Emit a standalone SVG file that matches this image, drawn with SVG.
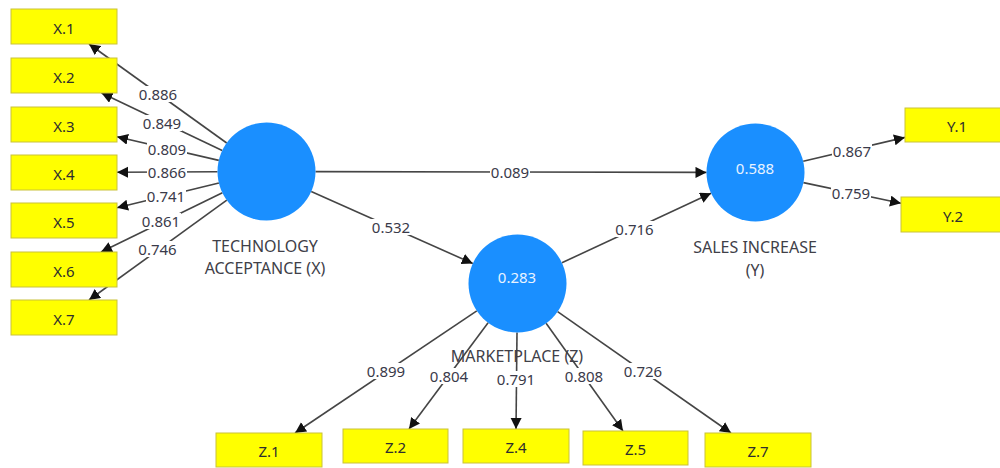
<svg xmlns="http://www.w3.org/2000/svg" width="1000" height="468" viewBox="0 0 1000 468">
  <defs>
    <marker id="arrow" markerUnits="userSpaceOnUse" markerWidth="12" markerHeight="12" refX="11" refY="5.5" orient="auto">
      <path d="M0,0 L11,5.5 L0,11 Z" fill="#111"/>
    </marker>
    <style>
      .bg { fill: #ffffff; }
      .edge { stroke: #454545; stroke-width: 1.6; fill: none; marker-end: url(#arrow); }
      .lbl-bg { fill: #ffffff; }
      .coef { font-family: "Noto Sans", "Open Sans", sans-serif; font-size: 15px; fill: #3a3a4a; text-anchor: middle; dominant-baseline: central; }
      .latent { fill: #1a8fff; }
      .r2 { font-family: "Noto Sans", "Open Sans", sans-serif; font-size: 15px; fill: #e8f3ff; text-anchor: middle; dominant-baseline: central; }
      .name { font-family: "Noto Sans", "Open Sans", sans-serif; font-size: 16px; fill: #404048; text-anchor: middle; dominant-baseline: central; }
      .ind { fill: #ffff00; stroke: #c9c23a; stroke-width: 1; }
      .ind-t { font-family: "Noto Sans", "Open Sans", sans-serif; font-size: 15px; fill: #2e2e2e; text-anchor: middle; dominant-baseline: central; }
    </style>
  </defs>

  <rect class="bg" x="0" y="0" width="1000" height="468"/>

  <!-- connectors: paths and outer loadings -->
  <g id="connectors">
    <!-- TECHNOLOGY ACCEPTANCE (X) -> indicators -->
    <line class="edge" x1="226.7" y1="143.0" x2="89" y2="44"/>
    <line class="edge" x1="222.2" y1="150.5" x2="101.5" y2="93"/>
    <line class="edge" x1="218.8" y1="160.4" x2="117" y2="136.8"/>
    <line class="edge" x1="217.5" y1="171.7" x2="117" y2="172.2"/>
    <line class="edge" x1="218.9" y1="183.0" x2="117" y2="207.7"/>
    <line class="edge" x1="222.4" y1="192.8" x2="101" y2="252"/>
    <line class="edge" x1="226.8" y1="200.2" x2="89" y2="300"/>

    <!-- structural paths -->
    <line class="edge" x1="315.5" y1="171.6" x2="706.5" y2="172.4"/>
    <line class="edge" x1="311.2" y1="191.5" x2="472.8" y2="263.5"/>
    <line class="edge" x1="561.9" y1="262.8" x2="711.1" y2="193.2"/>

    <!-- SALES INCREASE (Y) -> indicators -->
    <line class="edge" x1="803.2" y1="161.3" x2="905" y2="137.4"/>
    <line class="edge" x1="803.4" y1="182.6" x2="901" y2="203.3"/>

    <!-- MARKETPLACE (Z) -> indicators -->
    <line class="edge" x1="476.8" y1="310.8" x2="295" y2="433"/>
    <line class="edge" x1="488.1" y1="322.7" x2="409" y2="429"/>
    <line class="edge" x1="517.0" y1="332.5" x2="516" y2="429"/>
    <line class="edge" x1="546.1" y1="323.3" x2="623" y2="431"/>
    <line class="edge" x1="557.6" y1="311.6" x2="731" y2="433"/>

    <!-- coefficient labels -->
    <g>
      <rect class="lbl-bg" x="138" y="86" width="40" height="16"/><text class="coef" x="158" y="94">0.886</text>
      <rect class="lbl-bg" x="142" y="115" width="40" height="16"/><text class="coef" x="162" y="123">0.849</text>
      <rect class="lbl-bg" x="147" y="141" width="40" height="16"/><text class="coef" x="167" y="149">0.809</text>
      <rect class="lbl-bg" x="147" y="164" width="40" height="16"/><text class="coef" x="167" y="172">0.866</text>
      <rect class="lbl-bg" x="146" y="188" width="40" height="16"/><text class="coef" x="166" y="196">0.741</text>
      <rect class="lbl-bg" x="141" y="213" width="40" height="16"/><text class="coef" x="161" y="221">0.861</text>
      <rect class="lbl-bg" x="137" y="241" width="40" height="16"/><text class="coef" x="157.5" y="249">0.746</text>

      <rect class="lbl-bg" x="490" y="164" width="40" height="16"/><text class="coef" x="510" y="172">0.089</text>
      <rect class="lbl-bg" x="371" y="219" width="40" height="16"/><text class="coef" x="391" y="227">0.532</text>
      <rect class="lbl-bg" x="614" y="221" width="40" height="16"/><text class="coef" x="634.5" y="229">0.716</text>

      <rect class="lbl-bg" x="832" y="143" width="40" height="16"/><text class="coef" x="852" y="151">0.867</text>
      <rect class="lbl-bg" x="831" y="185" width="40" height="16"/><text class="coef" x="851" y="193">0.759</text>

      <rect class="lbl-bg" x="366" y="363" width="40" height="16"/><text class="coef" x="386" y="371">0.899</text>
      <rect class="lbl-bg" x="429" y="368" width="40" height="16"/><text class="coef" x="449" y="376">0.804</text>
      <rect class="lbl-bg" x="496" y="371" width="40" height="16"/><text class="coef" x="516" y="379">0.791</text>
      <rect class="lbl-bg" x="564" y="368" width="40" height="16"/><text class="coef" x="584" y="376">0.808</text>
      <rect class="lbl-bg" x="623" y="363" width="40" height="16"/><text class="coef" x="643" y="371">0.726</text>
    </g>
  </g>

  <!-- latent variables -->
  <g id="technology-acceptance">
    <circle class="latent" cx="266.5" cy="171.5" r="49"/>
    <text class="name" x="265" y="246">TECHNOLOGY</text>
    <text class="name" x="265" y="268">ACCEPTANCE (X)</text>
  </g>

  <g id="sales-increase">
    <circle class="latent" cx="755.5" cy="172.5" r="49"/>
    <text class="r2" x="755" y="168">0.588</text>
    <text class="name" x="755" y="247">SALES INCREASE</text>
    <text class="name" x="755" y="270">(Y)</text>
  </g>

  <g id="marketplace">
    <circle class="latent" cx="517.5" cy="283.5" r="49"/>
    <text class="r2" x="517" y="277">0.283</text>
    <text class="name" x="517" y="356">MARKETPLACE (Z)</text>
  </g>

  <!-- indicators of X -->
  <g id="x1"><rect class="ind" x="11" y="9" width="106" height="35"/><text class="ind-t" x="64" y="28">X.1</text></g>
  <g id="x2"><rect class="ind" x="11" y="58" width="106" height="35"/><text class="ind-t" x="64" y="77">X.2</text></g>
  <g id="x3"><rect class="ind" x="11" y="107" width="106" height="35"/><text class="ind-t" x="64" y="126">X.3</text></g>
  <g id="x4"><rect class="ind" x="11" y="155" width="106" height="35"/><text class="ind-t" x="64" y="174">X.4</text></g>
  <g id="x5"><rect class="ind" x="11" y="203" width="106" height="35"/><text class="ind-t" x="64" y="222">X.5</text></g>
  <g id="x6"><rect class="ind" x="11" y="252" width="106" height="35"/><text class="ind-t" x="64" y="271">X.6</text></g>
  <g id="x7"><rect class="ind" x="11" y="300" width="106" height="35"/><text class="ind-t" x="64" y="319">X.7</text></g>

  <!-- indicators of Y -->
  <g id="y1"><rect class="ind" x="905" y="108" width="106" height="34"/><text class="ind-t" x="957" y="126">Y.1</text></g>
  <g id="y2"><rect class="ind" x="901" y="197" width="106" height="35"/><text class="ind-t" x="953" y="216">Y.2</text></g>

  <!-- indicators of Z -->
  <g id="z1"><rect class="ind" x="216" y="433" width="106" height="34"/><text class="ind-t" x="269" y="451">Z.1</text></g>
  <g id="z2"><rect class="ind" x="343" y="429" width="105" height="34"/><text class="ind-t" x="395.5" y="447">Z.2</text></g>
  <g id="z4"><rect class="ind" x="463" y="429" width="106" height="34"/><text class="ind-t" x="516" y="447">Z.4</text></g>
  <g id="z5"><rect class="ind" x="583" y="431" width="105" height="34"/><text class="ind-t" x="635.5" y="449">Z.5</text></g>
  <g id="z7"><rect class="ind" x="705" y="433" width="106" height="34"/><text class="ind-t" x="758" y="451">Z.7</text></g>
</svg>
